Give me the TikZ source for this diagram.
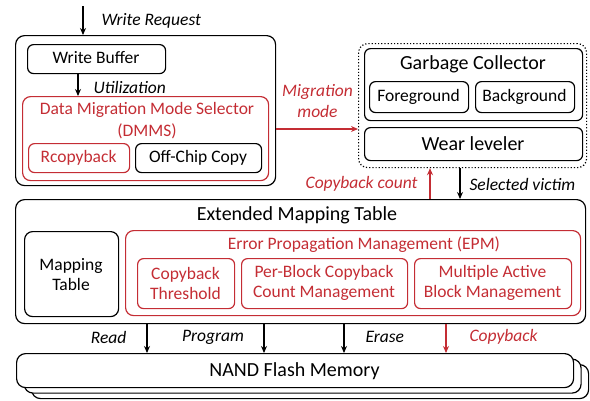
\documentclass[tikz,border=0pt]{standalone}
\usepackage{fontspec}
\setmainfont{Carlito}
\usetikzlibrary{arrows.meta}
\definecolor{myred}{RGB}{196,45,52}
\begin{document}
\begin{tikzpicture}[x=1pt,y=-1pt,
 box/.style={draw, line width=1.2pt, rounded corners=6pt, anchor=north west, inner sep=0pt},
 bigbox/.style={box, rounded corners=9pt},
 rbox/.style={box, draw=myred},
 big/.style={font=\fontsize{20}{24}\selectfont},
 norm/.style={font=\fontsize{17.5}{20}\selectfont, align=center},
 lab/.style={font=\fontsize{17.5}{21}\selectfont\itshape},
 rtext/.style={text=myred},
 arr/.style={-{Stealth[length=7pt,width=6pt]}, line width=1.2pt},
 rarr/.style={arr, draw=myred},
]
\useasboundingbox (0,0) rectangle (590,400);

% left block
\node[bigbox, minimum width=260pt, minimum height=150pt] (outer) at (15,35) {};
\node[box, minimum width=138pt, minimum height=29pt] (wb) at (27,44) {};
\node[norm] (wbt) at (96,58) {Write Buffer};
\node[bigbox, draw=myred, rounded corners=8pt, minimum width=246pt, minimum height=84pt] (dmms) at (22,96) {};
\node[norm, rtext, font=\fontsize{17.5}{22}\selectfont] (dmmst) at (147,120.5) {Data Migration Mode Selector\\(DMMS)};
\node[rbox, minimum width=101pt, minimum height=29pt] (rcb) at (28,143) {};
\node[norm, rtext] (rcbt) at (78.5,158) {Rcopyback};
\node[box, minimum width=126pt, minimum height=29pt] (occ) at (135,143) {};
\node[norm] (occt) at (198,158) {Off-Chip Copy};

% write request
\coordinate (wr) at (83,6);
\draw[arr] (wr) -- (wr |- outer.north);
\node[lab, anchor=west] (wrt) at (98,21) {Write Request};
\draw[arr] (wb.south -| 78,0) -- (dmms.north -| 78,0);
\node[lab, anchor=west] (utl) at (90,87) {Utilization};

% right top block
\node[bigbox, dotted, minimum width=228pt, minimum height=124pt] (dot) at (358,43) {};
\node[box, minimum width=218pt, minimum height=72pt] (gc) at (364,48) {};
\node[big] (gct) at (473,64) {Garbage Collector};
\node[box, minimum width=99pt, minimum height=31pt] (fg) at (369,81) {};
\node[norm] (fgt) at (418.5,97) {Foreground};
\node[box, minimum width=99pt, minimum height=31pt] (bg) at (475,81) {};
\node[norm] (bgt) at (524.5,97) {Background};
\node[box, minimum width=218pt, minimum height=33pt] (wl) at (364,127) {};
\node[big] (wlt) at (473,144) {Wear leveler};

% migration mode
\coordinate (mm) at (0,129);
\draw[rarr] (mm -| outer.east) -- (mm -| dot.west);
\node[lab, rtext, align=center, font=\fontsize{17.5}{21}\selectfont\itshape] (mmt) at (317.5,101.5) {Migration\\mode};

% extended mapping table
\node[bigbox, minimum width=570pt, minimum height=124pt] (emt) at (15,199) {};
\node[big] (emtt) at (297,215) {Extended Mapping Table};
\node[bigbox, rounded corners=8pt, minimum width=94pt, minimum height=85pt] (mt) at (24,231) {};
\node[norm] (mtt) at (71,274.5) {Mapping\\Table};
\node[bigbox, draw=myred, rounded corners=8pt, minimum width=455pt, minimum height=85pt] (epm) at (125,230) {};
\node[norm, rtext] (epmt) at (364,245) {Error Propagation Management (EPM)};
\node[rbox, minimum width=97pt, minimum height=50pt] (ct) at (137,258) {};
\node[norm, rtext] (ctt) at (185.5,283) {Copyback\\Threshold};
\node[rbox, minimum width=166pt, minimum height=50pt] (pb) at (241,258) {};
\node[norm, rtext] (pbt) at (324,283) {Per-Block Copyback\\Count Management};
\node[rbox, minimum width=157pt, minimum height=50pt] (ma) at (414,258) {};
\node[norm, rtext] (mat) at (492.5,283) {Multiple Active\\Block Management};

% links between dotted block and EMT
\coordinate (cbc) at (430,0);
\coordinate (sv) at (460,0);
\draw[rarr] (cbc |- emt.north) -- (cbc |- dot.south);
\node[lab, rtext, anchor=east] (cbct) at (421,184) {Copyback count};
\draw[arr] (sv |- dot.south) -- (sv |- emt.north);
\node[lab, anchor=west] (svt) at (466,184) {Selected victim};

% NAND
\node[bigbox, fill=white, minimum width=557pt, minimum height=34pt] (n3) at (31,364) {};
\node[bigbox, fill=white, minimum width=557pt, minimum height=34pt] (n2) at (23.5,358.5) {};
\node[bigbox, fill=white, minimum width=557pt, minimum height=34pt] (nand) at (16,353) {};
\node[big] (nandt) at (294.5,371) {NAND Flash Memory};

% operations
\coordinate (o1) at (147,0);
\coordinate (o2) at (264,0);
\coordinate (o3) at (344,0);
\coordinate (o4) at (446,0);
\draw[arr] (o1 |- emt.south) -- (o1 |- nand.north);
\draw[arr] (o2 |- emt.south) -- (o2 |- nand.north);
\draw[arr] (o3 |- emt.south) -- (o3 |- nand.north);
\draw[rarr] (o4 |- emt.south) -- (o4 |- nand.north);
\node[lab, anchor=east] (rd) at (130,337) {Read};
\node[lab] (pg) at (213,337) {Program};
\node[lab, anchor=west] (er) at (362,337) {Erase};
\node[lab, rtext, anchor=west] (cb) at (466,337) {Copyback};
\end{tikzpicture}
\end{document}
